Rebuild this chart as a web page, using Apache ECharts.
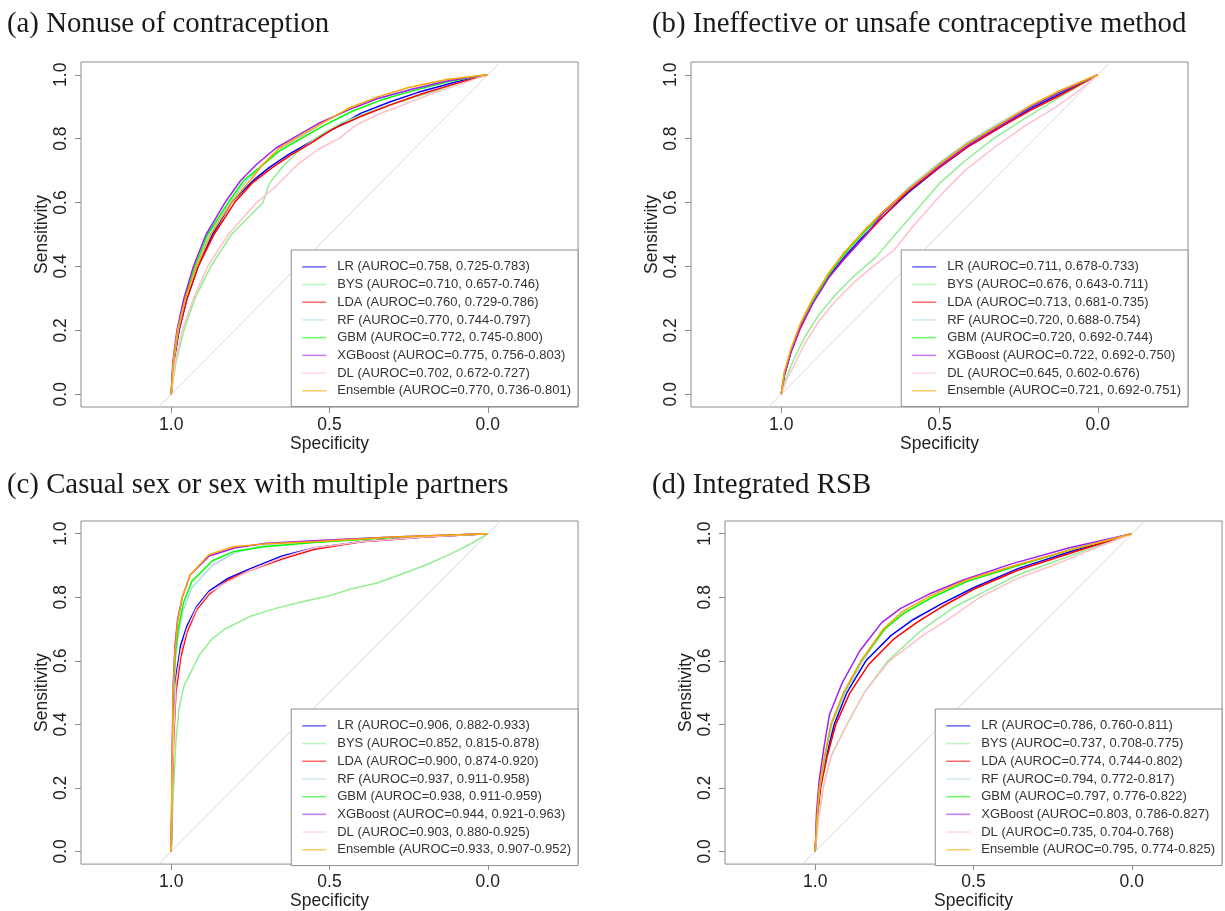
<!DOCTYPE html>
<html>
<head>
<meta charset="utf-8">
<script src="https://cdn.jsdelivr.net/npm/echarts@6/dist/echarts.min.js"></script>
<style>html,body{margin:0;padding:0;background:#fff}#c{width:1225px;height:911px}</style>
</head>
<body>
<div id="c"></div>
<script>
// ---------- DATA ----------
const panelTitles = ['(a) Nonuse of contraception','(b) Ineffective or unsafe contraceptive method','(c) Casual sex or sex with multiple partners','(d) Integrated RSB'];
const models = ['LR','BYS','LDA','RF','GBM','XGBoost','DL','Ensemble'];
const modelColors = ['#0000FF','#90EE90','#FF0000','#ADD8E6','#00FF00','#A020F0','#FFC0CB','#FFA500'];
const xTicks = [0, 0.5, 1];
const yTicks = [0, 0.2, 0.4, 0.6, 0.8, 1];
const aurocA = ['0.758, 0.725-0.783','0.710, 0.657-0.746','0.760, 0.729-0.786','0.770, 0.744-0.797','0.772, 0.745-0.800','0.775, 0.756-0.803','0.702, 0.672-0.727','0.770, 0.736-0.801'];
const aurocB = ['0.711, 0.678-0.733','0.676, 0.643-0.711','0.713, 0.681-0.735','0.720, 0.688-0.754','0.720, 0.692-0.744','0.722, 0.692-0.750','0.645, 0.602-0.676','0.721, 0.692-0.751'];
const aurocC = ['0.906, 0.882-0.933','0.852, 0.815-0.878','0.900, 0.874-0.920','0.937, 0.911-0.958','0.938, 0.911-0.959','0.944, 0.921-0.963','0.903, 0.880-0.925','0.933, 0.907-0.952'];
const aurocD = ['0.786, 0.760-0.811','0.737, 0.708-0.775','0.774, 0.744-0.802','0.794, 0.772-0.817','0.797, 0.776-0.822','0.803, 0.786-0.827','0.735, 0.704-0.768','0.795, 0.774-0.825'];

// ROC curves: [specificity, sensitivity]
const a_LR  = [[1,0],[.992,.1],[.975,.2],[.95,.3],[.915,.4],[.87,.5],[.81,.6],[.74,.67],[.69,.71],[.63,.75],[.56,.79],[.48,.835],[.40,.88],[.31,.915],[.22,.945],[.11,.975],[0,1]];
const a_BYS = [[1,0],[.985,.1],[.96,.2],[.925,.3],[.875,.4],[.81,.5],[.71,.6],[.69,.66],[.65,.71],[.60,.76],[.53,.81],[.46,.85],[.37,.885],[.28,.915],[.18,.945],[.09,.975],[0,1]];
const a_LDA = [[1,0],[.992,.1],[.976,.2],[.95,.3],[.915,.4],[.865,.5],[.80,.6],[.74,.665],[.68,.71],[.62,.75],[.56,.785],[.49,.83],[.40,.87],[.31,.905],[.21,.94],[.11,.97],[0,1]];
const a_RF  = [[1,0],[.993,.1],[.978,.2],[.955,.3],[.92,.4],[.88,.5],[.815,.6],[.76,.67],[.71,.72],[.65,.77],[.58,.81],[.52,.85],[.44,.89],[.35,.925],[.24,.955],[.12,.985],[0,1]];
const a_GBM = [[1,0],[.994,.1],[.98,.2],[.958,.3],[.925,.4],[.885,.5],[.82,.6],[.77,.67],[.72,.71],[.66,.76],[.59,.80],[.52,.84],[.43,.885],[.34,.92],[.23,.952],[.12,.98],[0,1]];
const a_XGB = [[1,0],[.995,.1],[.982,.2],[.96,.3],[.93,.4],[.89,.5],[.83,.6],[.78,.67],[.73,.72],[.67,.77],[.60,.81],[.53,.85],[.44,.89],[.35,.925],[.24,.955],[.12,.982],[0,1]];
const a_DL  = [[1,0],[.988,.1],[.965,.2],[.93,.3],[.885,.4],[.82,.5],[.73,.6],[.67,.65],[.60,.72],[.53,.77],[.47,.80],[.42,.84],[.35,.875],[.27,.905],[.18,.94],[.09,.97],[0,1]];
const a_ENS = [[1,0],[.994,.1],[.98,.2],[.955,.3],[.92,.4],[.875,.5],[.81,.6],[.75,.67],[.71,.72],[.66,.77],[.59,.81],[.52,.85],[.44,.895],[.35,.93],[.25,.96],[.13,.985],[0,1]];

const b_LR  = [[1,0],[.99,.06],[.97,.13],[.94,.21],[.90,.29],[.85,.37],[.80,.43],[.74,.495],[.68,.555],[.60,.63],[.50,.71],[.41,.775],[.31,.835],[.21,.895],[.12,.94],[0,1]];
const b_BYS = [[1,0],[.985,.05],[.96,.11],[.925,.18],[.88,.25],[.83,.31],[.77,.37],[.70,.43],[.64,.50],[.57,.58],[.50,.66],[.42,.73],[.33,.80],[.22,.87],[.12,.93],[0,1]];
const b_LDA = [[1,0],[.99,.06],[.97,.13],[.94,.205],[.90,.285],[.85,.365],[.80,.425],[.74,.49],[.68,.555],[.60,.635],[.50,.71],[.41,.775],[.31,.835],[.21,.89],[.12,.935],[0,1]];
const b_RF  = [[1,0],[.99,.065],[.97,.135],[.94,.215],[.90,.295],[.85,.375],[.80,.44],[.74,.51],[.68,.57],[.60,.645],[.50,.725],[.41,.79],[.31,.85],[.21,.905],[.12,.95],[0,1]];
const b_GBM = [[1,0],[.99,.065],[.97,.135],[.94,.215],[.90,.29],[.85,.375],[.80,.44],[.74,.505],[.68,.565],[.60,.64],[.50,.72],[.41,.785],[.31,.845],[.21,.9],[.12,.945],[0,1]];
const b_XGB = [[1,0],[.99,.06],[.97,.13],[.94,.21],[.90,.285],[.85,.365],[.80,.425],[.74,.49],[.68,.565],[.60,.64],[.50,.715],[.41,.78],[.31,.84],[.21,.9],[.12,.945],[0,1]];
const b_DL  = [[1,0],[.985,.04],[.96,.09],[.925,.16],[.88,.23],[.83,.29],[.77,.35],[.71,.40],[.645,.45],[.58,.53],[.50,.62],[.42,.70],[.33,.77],[.23,.84],[.13,.90],[.06,.95],[0,1]];
const b_ENS = [[1,0],[.99,.07],[.97,.14],[.94,.22],[.90,.30],[.85,.38],[.80,.445],[.74,.51],[.68,.57],[.60,.64],[.50,.72],[.41,.785],[.31,.845],[.21,.905],[.12,.95],[0,1]];

const c_LR  = [[1,0],[.997,.2],[.992,.4],[.985,.55],[.97,.65],[.95,.71],[.92,.77],[.88,.82],[.82,.86],[.75,.89],[.65,.93],[.55,.955],[.40,.975],[.20,.99],[0,1]];
const c_BYS = [[1,0],[.995,.15],[.985,.35],[.975,.45],[.96,.52],[.93,.58],[.91,.62],[.87,.67],[.83,.70],[.75,.74],[.67,.765],[.59,.785],[.50,.805],[.435,.825],[.35,.845],[.28,.87],[.20,.9],[.12,.935],[.05,.97],[0,1]];
const c_LDA = [[1,0],[.997,.18],[.992,.36],[.985,.5],[.97,.61],[.95,.69],[.92,.76],[.88,.81],[.82,.855],[.75,.885],[.65,.92],[.55,.95],[.40,.975],[.20,.99],[0,1]];
const c_RF  = [[1,0],[.997,.28],[.993,.48],[.987,.6],[.978,.68],[.962,.76],[.935,.83],[.87,.9],[.80,.94],[.70,.965],[.55,.978],[.30,.99],[0,1]];
const c_GBM = [[1,0],[.997,.28],[.993,.5],[.987,.62],[.978,.7],[.962,.78],[.935,.85],[.87,.915],[.80,.945],[.70,.96],[.55,.972],[.30,.988],[0,1]];
const c_XGB = [[1,0],[.997,.3],[.994,.52],[.988,.65],[.98,.73],[.965,.8],[.94,.87],[.88,.93],[.80,.955],[.70,.97],[.55,.978],[.30,.99],[0,1]];
const c_DL  = [[1,0],[.997,.19],[.992,.38],[.985,.53],[.97,.63],[.95,.7],[.92,.765],[.88,.815],[.82,.85],[.75,.885],[.65,.925],[.55,.955],[.40,.975],[.20,.99],[0,1]];
const c_ENS = [[1,0],[.997,.3],[.994,.5],[.988,.63],[.98,.72],[.965,.8],[.94,.87],[.88,.935],[.80,.96],[.70,.968],[.55,.975],[.30,.99],[0,1]];

const d_LR  = [[1,0],[.995,.1],[.985,.2],[.965,.3],[.94,.4],[.9,.5],[.84,.6],[.76,.68],[.69,.73],[.6,.78],[.5,.83],[.36,.89],[.19,.945],[0,1]];
const d_BYS = [[1,0],[.99,.1],[.975,.2],[.95,.3],[.9,.4],[.845,.5],[.77,.6],[.66,.7],[.56,.77],[.46,.82],[.36,.87],[.25,.91],[.14,.95],[0,1]];
const d_LDA = [[1,0],[.994,.1],[.983,.2],[.962,.3],[.935,.4],[.89,.5],[.83,.59],[.75,.67],[.68,.72],[.6,.77],[.5,.825],[.36,.885],[.19,.94],[0,1]];
const d_RF  = [[1,0],[.995,.1],[.986,.2],[.968,.3],[.948,.4],[.905,.5],[.85,.6],[.78,.7],[.72,.75],[.63,.8],[.52,.85],[.36,.9],[.19,.95],[0,1]];
const d_GBM = [[1,0],[.995,.1],[.987,.2],[.97,.3],[.95,.4],[.91,.5],[.855,.6],[.78,.7],[.72,.75],[.63,.8],[.52,.85],[.36,.9],[.19,.95],[0,1]];
const d_XGB = [[1,0],[.996,.12],[.988,.22],[.972,.33],[.955,.43],[.915,.53],[.86,.63],[.79,.72],[.73,.765],[.64,.81],[.53,.855],[.38,.905],[.2,.955],[0,1]];
const d_DL  = [[1,0],[.99,.1],[.975,.2],[.95,.3],[.9,.4],[.845,.5],[.765,.6],[.66,.68],[.58,.73],[.48,.8],[.36,.86],[.25,.9],[.14,.945],[0,1]];
const d_ENS = [[1,0],[.995,.1],[.987,.2],[.97,.3],[.95,.4],[.91,.5],[.855,.6],[.785,.7],[.725,.755],[.635,.805],[.52,.855],[.37,.9],[.19,.95],[0,1]];

const curves = [
  [a_LR,a_BYS,a_LDA,a_RF,a_GBM,a_XGB,a_DL,a_ENS],
  [b_LR,b_BYS,b_LDA,b_RF,b_GBM,b_XGB,b_DL,b_ENS],
  [c_LR,c_BYS,c_LDA,c_RF,c_GBM,c_XGB,c_DL,c_ENS],
  [d_LR,d_BYS,d_LDA,d_RF,d_GBM,d_XGB,d_DL,d_ENS]
];
const aurocs = [aurocA, aurocB, aurocC, aurocD];

// ---------- LAYOUT ----------
const xMin = -0.285, xMax = 1.285, yMin = -0.04, yMax = 1.04;
const W = 1225;
const grids = [
  {left: 81,  top: 62,  width: 497, height: 345},
  {left: 691, top: 62,  width: 497, height: 345},
  {left: 81,  top: 521, width: 497, height: 345},
  {left: 725, top: 521, width: 497, height: 345}
];
const titlePos = [{left: 7, top: 10}, {left: 652, top: 10}, {left: 7, top: 471}, {left: 652, top: 471}];
const LEG_H = 157;

const axisFont = 'Liberation Sans, Arial, sans-serif';
const option = {
  animation: false,
  backgroundColor: '#fff',
  title: [], grid: [], xAxis: [], yAxis: [], legend: [], series: []
};

grids.forEach((g, k) => {
  option.title.push({
    text: panelTitles[k], left: titlePos[k].left, top: titlePos[k].top, padding: 0,
    textStyle: {fontFamily: 'Liberation Serif, Times New Roman, serif', fontSize: 28.8, fontWeight: 'normal', color: '#1a1a1a'}
  });
  option.grid.push({left: g.left, top: g.top, width: g.width, height: g.height, show: true,
    borderColor: '#8c8c8c', borderWidth: 1, backgroundColor: 'transparent', containLabel: false});
  option.xAxis.push({
    gridIndex: k, type: 'value', inverse: true, min: xMin, max: xMax,
    name: 'Specificity', nameLocation: 'middle', nameGap: 26,
    nameTextStyle: {fontFamily: axisFont, fontSize: 17.5, color: '#222'},
    axisLine: {show: false, onZero: false},
    axisTick: {show: true, customValues: xTicks, length: 6, lineStyle: {color: '#8c8c8c'}},
    axisLabel: {customValues: xTicks, formatter: v => v.toFixed(1), fontFamily: axisFont, fontSize: 17.5, color: '#222', margin: 9},
    splitLine: {show: false}
  });
  option.yAxis.push({
    gridIndex: k, type: 'value', min: yMin, max: yMax,
    name: 'Sensitivity', nameLocation: 'middle', nameGap: 29,
    nameTextStyle: {fontFamily: axisFont, fontSize: 17.5, color: '#222'},
    axisLine: {show: false, onZero: false},
    axisTick: {show: true, customValues: yTicks, length: 6, lineStyle: {color: '#8c8c8c'}},
    axisLabel: {customValues: yTicks, formatter: v => v.toFixed(1), rotate: 90, fontFamily: axisFont, fontSize: 17.5, color: '#222', margin: 11},
    splitLine: {show: false}
  });
  // diagonal reference line (sens = 1 - spec) across the plot range
  option.series.push({
    type: 'line', xAxisIndex: k, yAxisIndex: k, name: 'diag' + k,
    data: [[1 - yMin, yMin], [1 - yMax, yMax]], showSymbol: false, symbol: 'none', silent: true,
    lineStyle: {color: '#d6d6d6', width: 1}, itemStyle: {color: '#d6d6d6'}, z: 1
  });
  const names = models.map((m, i) => m + ' (AUROC=' + aurocs[k][i] + ')');
  curves[k].forEach((pts, i) => {
    option.series.push({
      type: 'line', xAxisIndex: k, yAxisIndex: k, name: names[i], data: pts,
      showSymbol: false, symbol: 'none', clip: true,
      lineStyle: {color: modelColors[i], width: 1.5}, itemStyle: {color: modelColors[i]}, z: 2 + i
    });
  });
  option.legend.push({
    data: names, orient: 'vertical', selectedMode: false,
    right: W - (g.left + g.width), top: g.top + g.height - LEG_H,
    padding: [8, 7, 7, 11], itemGap: 0, itemWidth: 24, itemHeight: 1.5, icon: 'rect',
    borderColor: '#8c8c8c', borderWidth: 1, backgroundColor: '#fff', borderRadius: 0,
    itemStyle: {opacity: 0.6},
    textStyle: {fontFamily: axisFont, fontSize: 13, color: '#333', lineHeight: 17.7, padding: [0, 0, 0, 6]}
  });
});

const chart = echarts.init(document.getElementById('c'), null, {renderer: 'canvas'});
chart.setOption(option);
</script>
</body>
</html>
